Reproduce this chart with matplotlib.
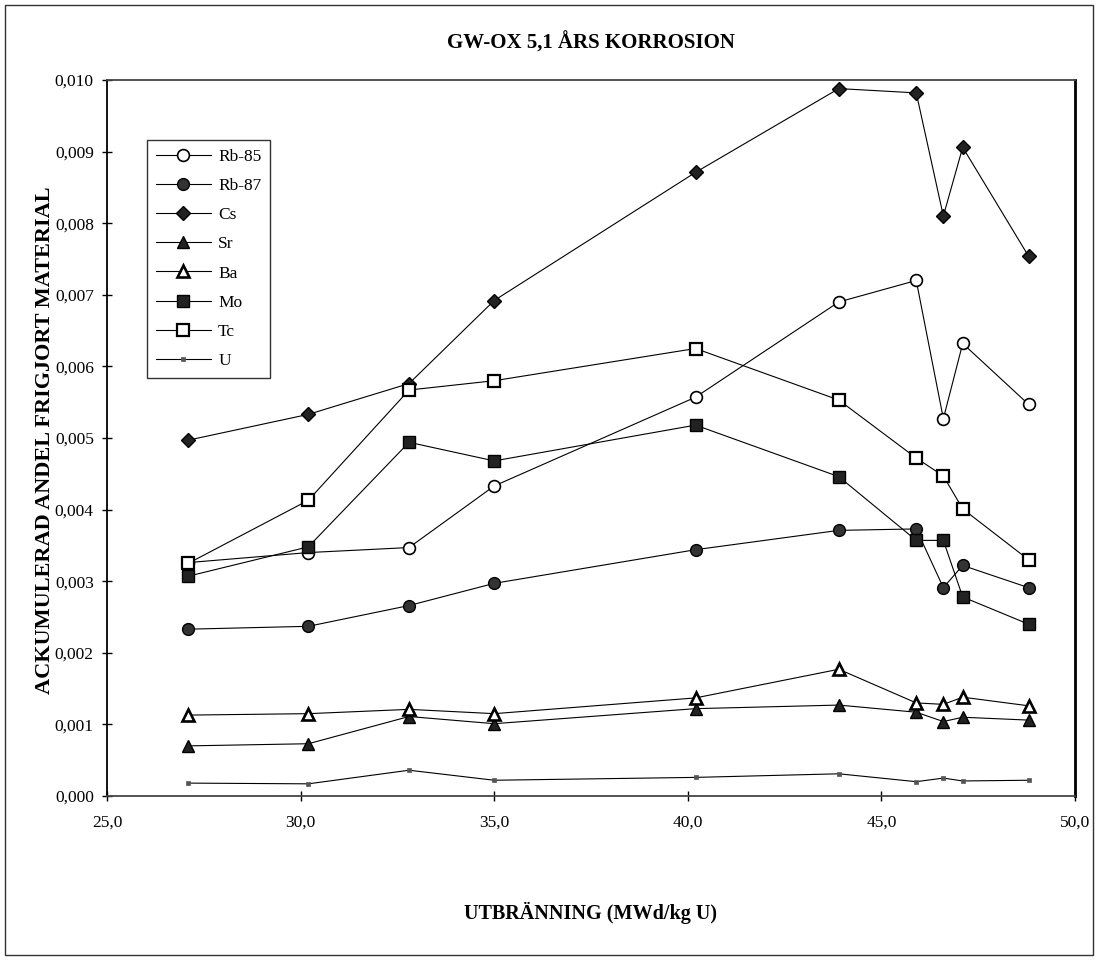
import matplotlib
matplotlib.use("Agg")
import matplotlib.pyplot as plt
from matplotlib.patches import Rectangle
from matplotlib.ticker import FuncFormatter, MultipleLocator

# Data
burnup = [27.1, 30.2, 32.8, 35.0, 40.2, 43.9, 45.9, 46.6, 47.1, 48.8]
rb85 = [0.00326, 0.00340, 0.00347, 0.00433, 0.00557, 0.00690, 0.00720, 0.00527, 0.00632, 0.00547]
rb87 = [0.00233, 0.00237, 0.00266, 0.00297, 0.00344, 0.00371, 0.00373, 0.00291, 0.00322, 0.00291]
cs = [0.00497, 0.00533, 0.00576, 0.00692, 0.00871, 0.00988, 0.00982, 0.00810, 0.00906, 0.00754]
sr = [0.00070, 0.00073, 0.00111, 0.00101, 0.00122, 0.00127, 0.00117, 0.00104, 0.00110, 0.00106]
ba = [0.00113, 0.00115, 0.00121, 0.00115, 0.00137, 0.00177, 0.00130, 0.00128, 0.00138, 0.00126]
mo = [0.00307, 0.00348, 0.00494, 0.00468, 0.00518, 0.00446, 0.00357, 0.00357, 0.00278, 0.00240]
tc = [0.00325, 0.00413, 0.00567, 0.00580, 0.00625, 0.00553, 0.00472, 0.00447, 0.00401, 0.00330]
u = [0.00018, 0.00017, 0.00036, 0.00022, 0.00026, 0.00031, 0.00020, 0.00025, 0.00021, 0.00022]

series_names = ["Rb-85", "Rb-87", "Cs", "Sr", "Ba", "Mo", "Tc", "U"]
series_vals = [rb85, rb87, cs, sr, ba, mo, tc, u]

title = "GW-OX 5,1 ÅRS KORROSION"
xlabel = "UTBRÄNNING (MWd/kg U)"
ylabel = "ACKUMULERAD ANDEL FRIGJORT MATERIAL"

plt.rcParams['font.family'] = ['Liberation Serif', 'DejaVu Serif']

W, H = 1099, 960
fig = plt.figure(figsize=(W / 100, H / 100), dpi=100)
fig.patch.set_facecolor('white')

# outer frame
fig.patches.append(Rectangle((5 / W, 5 / H), (1093 - 5) / W, (955 - 5) / H,
                             transform=fig.transFigure, fill=False,
                             edgecolor='#333333', linewidth=1.0))

ax = fig.add_axes([107 / W, 1 - 796 / H, (1075 - 107) / W, (796 - 80) / H])

styles = {
    "Rb-85": dict(marker='o', mfc='white', mec='black', ms=8.5, mew=1.2),
    "Rb-87": dict(marker='o', mfc='#333333', mec='black', ms=8.5, mew=1.0),
    "Cs": dict(marker='D', mfc='#222222', mec='black', ms=7.5, mew=1.0),
    "Sr": dict(marker='^', mfc='#222222', mec='black', ms=8.5, mew=1.0),
    "Ba": dict(marker='^', mfc='white', mec='black', ms=8.5, mew=1.9),
    "Mo": dict(marker='s', mfc='#222222', mec='black', ms=8.5, mew=1.0),
    "Tc": dict(marker='s', mfc='white', mec='black', ms=8.5, mew=1.6),
    "U": dict(marker='s', mfc='#555555', mec='#555555', ms=2.5, mew=0.5),
}

for name, vals in zip(series_names, series_vals):
    ax.plot(burnup, vals, color='black', linewidth=0.8, label=name, **styles[name])

ax.set_xlim(25, 50)
ax.set_ylim(0, 0.010)
ax.xaxis.set_major_locator(MultipleLocator(5))
ax.yaxis.set_major_locator(MultipleLocator(0.001))
ax.xaxis.set_major_formatter(FuncFormatter(lambda v, p: f"{v:.1f}".replace('.', ',')))
ax.yaxis.set_major_formatter(FuncFormatter(lambda v, p: f"{v:.3f}".replace('.', ',')))
ax.tick_params(axis='both', direction='inout', length=7, width=1.0, labelsize=12.5,
               colors='black')
ax.tick_params(axis='x', pad=10)
ax.tick_params(axis='y', pad=6)

for side in ['top', 'bottom', 'left']:
    ax.spines[side].set_linewidth(1.3)
    ax.spines[side].set_color('#444444')
ax.spines['left'].set_color('black')
ax.spines['right'].set_linewidth(2.0)
ax.spines['right'].set_color('black')

fig.text(0.5 * (107 + 1075) / W, 1 - 43 / H, title, ha='center', va='center',
         fontsize=15, fontweight='bold')
fig.text(0.5 * (107 + 1075) / W, 1 - 913 / H, xlabel, ha='center', va='center',
         fontsize=14.5, fontweight='bold')
fig.text(45 / W, 1 - 440 / H, ylabel, ha='center', va='center', rotation=90,
         fontsize=16, fontweight='bold')

leg = ax.legend(loc='upper left', bbox_to_anchor=((147 - 107) / 968, (796 - 140) / 716),
                frameon=True, fancybox=False, edgecolor='black', fontsize=12.5,
                handlelength=3.2, labelspacing=0.75, borderpad=0.5, handletextpad=0.4,
                borderaxespad=0)
leg.get_frame().set_linewidth(1.0)

fig.savefig("out.png", dpi=100, facecolor='white')
